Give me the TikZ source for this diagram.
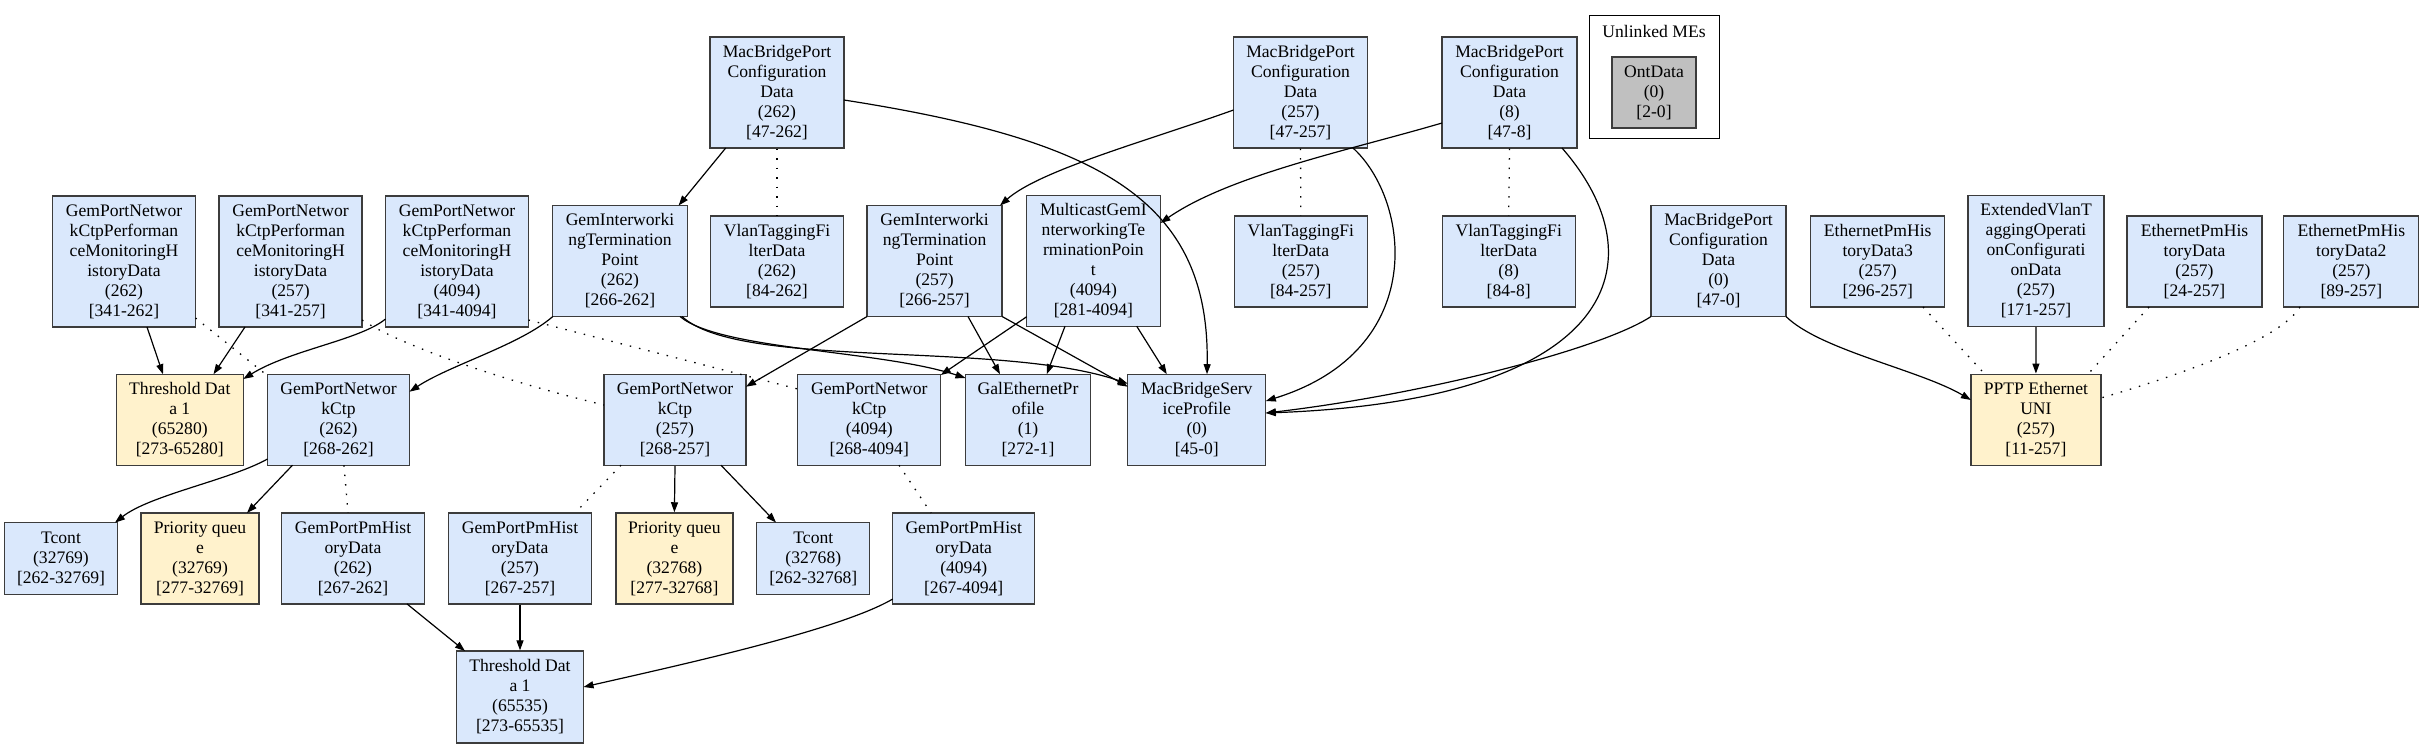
\documentclass[tikz,border=0pt]{standalone}
\usepackage{fontspec}
\setmainfont{Liberation Serif}
\usetikzlibrary{arrows.meta,calc}
\definecolor{mebl}{RGB}{218,232,252}
\definecolor{meye}{RGB}{255,242,204}
\definecolor{megr}{RGB}{192,192,192}
\definecolor{mebd}{RGB}{60,60,60}
\tikzset{
  me/.style={draw=mebd, line width=1.3pt, fill=mebl, align=center, inner sep=0pt, font=\fontsize{17.6}{20}\selectfont},
  yel/.style={me, fill=meye},
  sz/.style 2 args={minimum width=#1pt, minimum height=#2pt},
  arr/.style={-{Triangle[length=10pt,width=7pt]}, line width=1.2pt, black},
  dots/.style={line width=1.3pt, dash pattern=on 1.5pt off 8pt, black},
}
\begin{document}
\begin{tikzpicture}[x=1pt,y=-1pt]
\fill[white] (0,0) rectangle (2424,748);
\useasboundingbox (0,0) rectangle (2424,748);
% cluster
\node[draw=black, line width=1pt, minimum width=130pt, minimum height=123pt, inner sep=0pt] (unl) at (1654,76.5) {};
\node[font=\fontsize{17.6}{20}\selectfont] (unllab) at (1654,31) {Unlinked MEs};
\node[me, fill=megr, sz={84}{71}] (ont) at (1654,92.5) {OntData\\(0)\\{}[2-0]};
% row 1
\node[me, sz={134}{111}] (mb262) at (777,92.5) {MacBridgePort\\Configuration\\Data\\(262)\\{}[47-262]};
\node[me, sz={134}{111}] (mb257) at (1300.5,92.5) {MacBridgePort\\Configuration\\Data\\(257)\\{}[47-257]};
\node[me, sz={135}{111}] (mb8) at (1509.5,92.5) {MacBridgePort\\Configuration\\Data\\(8)\\{}[47-8]};
% row 2
\node[me, sz={143}{131}] (pm262) at (124,261.5) {GemPortNetwor\\kCtpPerforman\\ceMonitoringH\\istoryData\\(262)\\{}[341-262]};
\node[me, sz={143}{131}] (pm257) at (290.6,261.5) {GemPortNetwor\\kCtpPerforman\\ceMonitoringH\\istoryData\\(257)\\{}[341-257]};
\node[me, sz={143}{131}] (pm4094) at (457,261.5) {GemPortNetwor\\kCtpPerforman\\ceMonitoringH\\istoryData\\(4094)\\{}[341-4094]};
\node[me, sz={135}{111}] (giw262) at (620,261) {GemInterworki\\ngTermination\\Point\\(262)\\{}[266-262]};
\node[me, sz={133}{91}] (vtf262) at (777,261.5) {VlanTaggingFi\\lterData\\(262)\\{}[84-262]};
\node[me, sz={135}{111}] (giw257) at (934.6,261) {GemInterworki\\ngTermination\\Point\\(257)\\{}[266-257]};
\node[me, sz={134}{131}] (mgiw) at (1093.4,260.7) {MulticastGemI\\nterworkingTe\\rminationPoin\\t\\(4094)\\{}[281-4094]};
\node[me, sz={133}{91}] (vtf257) at (1300.8,261.5) {VlanTaggingFi\\lterData\\(257)\\{}[84-257]};
\node[me, sz={133}{91}] (vtf8) at (1508.7,261.5) {VlanTaggingFi\\lterData\\(8)\\{}[84-8]};
\node[me, sz={135}{111}] (mb0) at (1718.5,261) {MacBridgePort\\Configuration\\Data\\(0)\\{}[47-0]};
\node[me, sz={134}{91}] (eth3) at (1877.7,261.5) {EthernetPmHis\\toryData3\\(257)\\{}[296-257]};
\node[me, sz={136}{131}] (extv) at (2036,261) {ExtendedVlanT\\aggingOperati\\onConfigurati\\onData\\(257)\\{}[171-257]};
\node[me, sz={135}{91}] (eth) at (2194.5,261.5) {EthernetPmHis\\toryData\\(257)\\{}[24-257]};
\node[me, sz={135}{91}] (eth2) at (2351.3,261.5) {EthernetPmHis\\toryData2\\(257)\\{}[89-257]};
% row 3
\node[yel, sz={127}{91}] (th65280) at (179.8,419.7) {Threshold Dat\\a 1\\(65280)\\{}[273-65280]};
\node[me, sz={142}{91}] (ctp262) at (338.5,419.7) {GemPortNetwor\\kCtp\\(262)\\{}[268-262]};
\node[me, sz={142}{91}] (ctp257) at (675,419.7) {GemPortNetwor\\kCtp\\(257)\\{}[268-257]};
\node[me, sz={143}{91}] (ctp4094) at (869.3,419.7) {GemPortNetwor\\kCtp\\(4094)\\{}[268-4094]};
\node[me, sz={125}{91}] (gal) at (1028,419.7) {GalEthernetPr\\ofile\\(1)\\{}[272-1]};
\node[me, sz={138}{91}] (mbsp) at (1196.8,419.7) {MacBridgeServ\\iceProfile\\(0)\\{}[45-0]};
\node[yel, sz={130}{91}] (pptp) at (2035.9,419.7) {PPTP Ethernet\\UNI\\(257)\\{}[11-257]};
% row 4
\node[me, sz={113}{72}] (tc32769) at (61,558.6) {Tcont\\(32769)\\{}[262-32769]};
\node[yel, sz={118}{91}] (pq32769) at (200,558.4) {Priority queu\\e\\(32769)\\{}[277-32769]};
\node[me, sz={143}{91}] (gph262) at (353,558.4) {GemPortPmHist\\oryData\\(262)\\{}[267-262]};
\node[me, sz={143}{91}] (gph257) at (520,558.4) {GemPortPmHist\\oryData\\(257)\\{}[267-257]};
\node[yel, sz={117}{91}] (pq32768) at (674.4,558.4) {Priority queu\\e\\(32768)\\{}[277-32768]};
\node[me, sz={113}{72}] (tc32768) at (813.3,558.5) {Tcont\\(32768)\\{}[262-32768]};
\node[me, sz={142}{91}] (gph4094) at (963.7,558.4) {GemPortPmHist\\oryData\\(4094)\\{}[267-4094]};
% row 5
\node[me, sz={127}{92}] (th65535) at (520,697) {Threshold Dat\\a 1\\(65535)\\{}[273-65535]};
% edges
\draw[arr] ($(mb262)+(-51.3,55.5)$) -- ($(giw262)+(58.6,-55.5)$);
\draw[dots] (mb262.south) -- (vtf262.north);
\draw[arr] ($(mb262)+(67,7.5)$) .. controls (1100,140) and (1210,200) .. ($(mbsp)+(10.2,-45.5)$);
\draw[arr] ($(mb257)+(-67,17.5)$) .. controls (1150,140) and (1040,170) .. ($(giw257)+(65.4,-55.5)$);
\draw[dots] (mb257.south) -- (vtf257.north);
\draw[arr] ($(mb257)+(52.5,55.5)$) .. controls (1410,200) and (1430,350) .. ($(mbsp)+(69,-18.7)$);
\draw[dots] (mb8.south) -- (vtf8.north);
\draw[arr] ($(mb8)+(-67.5,30.5)$) .. controls (1350,150) and (1230,175) .. ($(mgiw)+(67,-37.7)$);
\draw[arr] ($(mb8)+(52.5,55.5)$) .. controls (1660,260) and (1620,400) .. ($(mbsp)+(69,-6.7)$);
\draw[arr] ($(mb0)+(-67.5,55.5)$) .. controls (1600,350) and (1420,395) .. ($(mbsp)+(69,-6.7)$);
\draw[arr] ($(mb0)+(67.5,55.5)$) .. controls (1820,350) and (1920,370) .. ($(pptp)+(-65,-19.7)$);
\draw[dots] ($(eth3)+(45.3,45.5)$) -- ($(pptp)+(-51,-45.5)$);
\draw[arr] (extv.south) -- (pptp.north);
\draw[dots] ($(eth)+(-45.5,45.5)$) -- ($(pptp)+(52,-45.5)$);
\draw[dots] ($(eth2)+(-51.3,45.5)$) .. controls (2280,340) and (2180,375) .. ($(pptp)+(65,-21.7)$);
\draw[arr] ($(giw262)+(-67.2,55.5)$) .. controls (520,345) and (450,365) .. ($(ctp262)+(71,-28)$);
\draw[arr] ($(giw262)+(60,55.5)$) .. controls (720,350) and (880,350) .. ($(gal)+(-62.5,-41.7)$);
\draw[arr] ($(giw262)+(62,55.5)$) .. controls (740,370) and (1000,340) .. ($(mbsp)+(-69,-36)$);
\draw[arr] ($(giw257)+(-67.5,55.5)$) -- ($(ctp257)+(71,-33)$);
\draw[arr] ($(giw257)+(33.4,55.5)$) -- ($(gal)+(-28,-45.5)$);
\draw[arr] ($(giw257)+(67.5,55.5)$) -- ($(mbsp)+(-69,-33)$);
\draw[arr] ($(mgiw)+(-66.7,56)$) -- ($(ctp4094)+(71.5,-44.7)$);
\draw[arr] ($(mgiw)+(-28.4,65.5)$) -- ($(gal)+(18.7,-45.5)$);
\draw[arr] ($(mgiw)+(43.3,65.5)$) -- ($(mbsp)+(-30,-45.5)$);
\draw[arr] ($(pm262)+(23,65.5)$) -- ($(th65280)+(-16.8,-45.5)$);
\draw[arr] ($(pm257)+(-45.6,65.5)$) -- ($(th65280)+(33.7,-45.5)$);
\draw[arr] ($(pm4094)+(-71.5,57.5)$) .. controls (360,340) and (290,350) .. ($(th65280)+(63.5,-40.7)$);
\draw[dots] ($(pm262)+(71.5,56.5)$) -- ($(ctp262)+(-71,-44)$);
\draw[dots] ($(pm257)+(71.5,58.5)$) .. controls (400,345) and (500,380) .. ($(ctp257)+(-71,-14.7)$);
\draw[dots] ($(pm4094)+(71.5,58.5)$) -- ($(ctp4094)+(-71.5,-30.7)$);
\draw[arr] ($(ctp262)+(-71,39.3)$) .. controls (230,480) and (150,495) .. ($(tc32769)+(54,-36)$);
\draw[arr] ($(ctp262)+(-46,45.5)$) -- ($(pq32769)+(47,-45.5)$);
\draw[dots] ($(ctp262)+(5.5,45.5)$) -- ($(gph262)+(-5,-45.5)$);
\draw[dots] ($(ctp257)+(-54,45.5)$) -- ($(gph257)+(55,-45.5)$);
\draw[arr] (ctp257.south) -- (pq32768.north);
\draw[arr] ($(ctp257)+(46,45.5)$) -- ($(tc32768)+(-37.3,-36)$);
\draw[dots] ($(ctp4094)+(29.7,45.5)$) -- ($(gph4094)+(-32.7,-45.5)$);
\draw[arr] ($(gph262)+(54,45.5)$) -- ($(th65535)+(-55,-46)$);
\draw[arr] (gph257.south) -- (th65535.north);
\draw[arr] ($(gph4094)+(-71,40.6)$) .. controls (840,630) and (680,665) .. ($(th65535)+(63.5,-10)$);
\end{tikzpicture}
\end{document}
